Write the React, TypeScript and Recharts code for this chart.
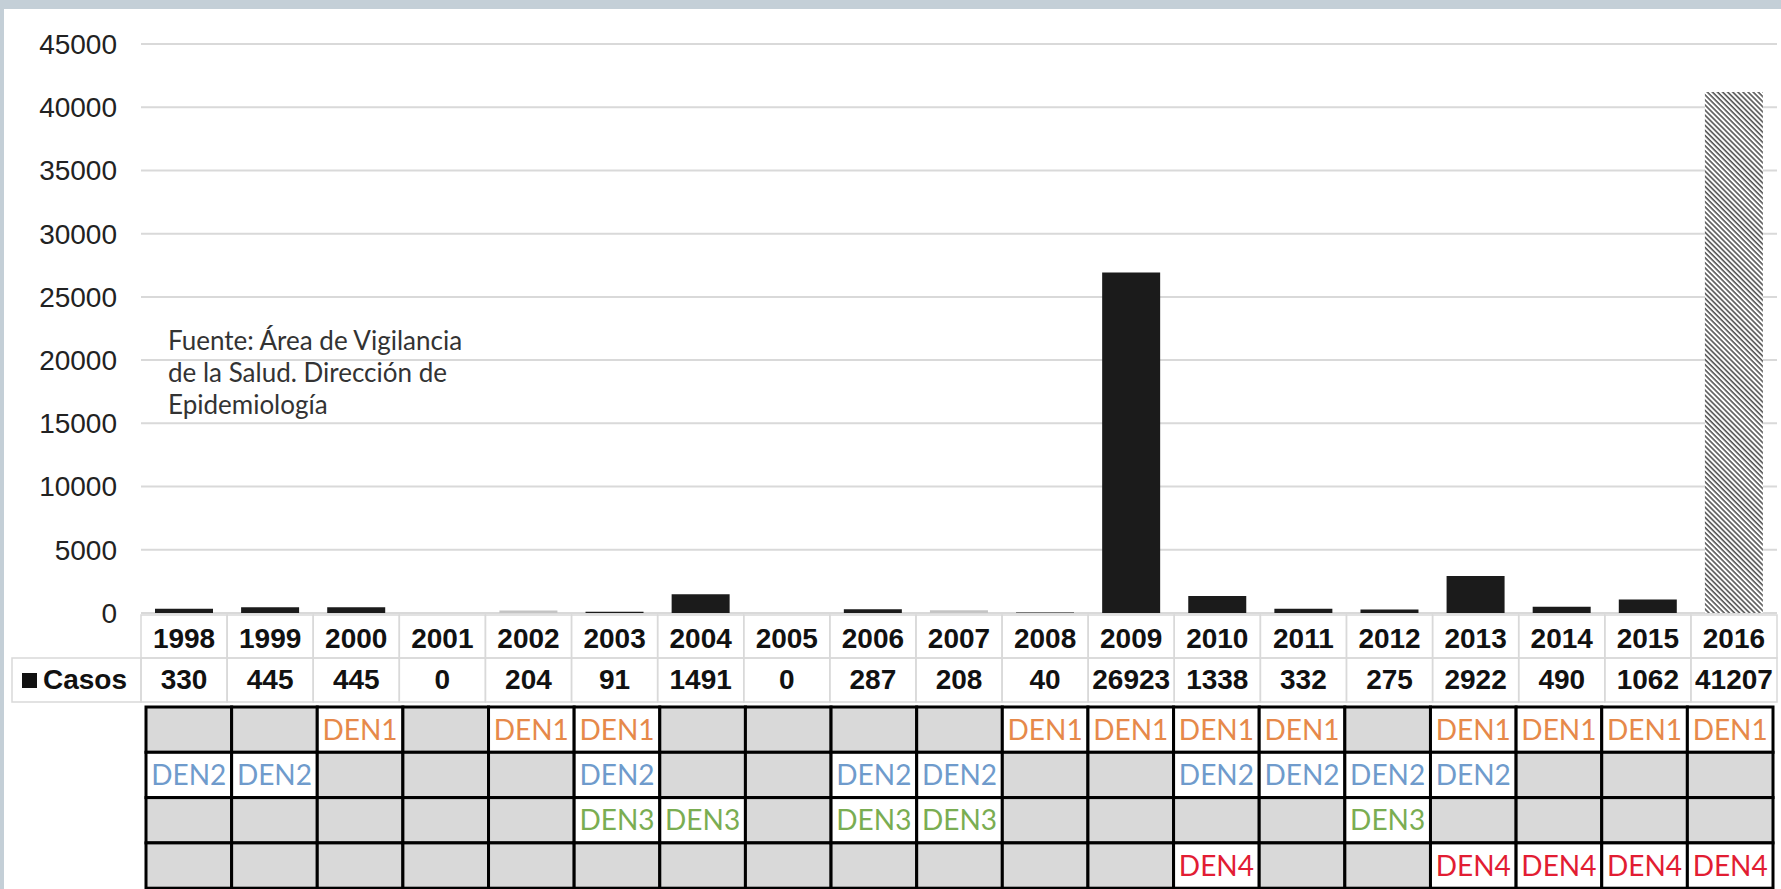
import React from 'react';
import { BarChart, Bar, XAxis, YAxis, CartesianGrid, Cell } from 'recharts';

const years = ['1998', '1999', '2000', '2001', '2002', '2003', '2004', '2005', '2006', '2007', '2008', '2009', '2010', '2011', '2012', '2013', '2014', '2015', '2016'];
const casos = [330, 445, 445, 0, 204, 91, 1491, 0, 287, 208, 40, 26923, 1338, 332, 275, 2922, 490, 1062, 41207];
const yTicks = [0, 5000, 10000, 15000, 20000, 25000, 30000, 35000, 40000, 45000];

const den1Years = ['2000', '2002', '2003', '2008', '2009', '2010', '2011', '2013', '2014', '2015', '2016'];
const den2Years = ['1998', '1999', '2003', '2006', '2007', '2010', '2011', '2012', '2013'];
const den3Years = ['2003', '2004', '2006', '2007', '2012'];
const den4Years = ['2010', '2013', '2014', '2015', '2016'];
const serotypes = ['DEN1', 'DEN2', 'DEN3', 'DEN4'];
const serotypeYears = [den1Years, den2Years, den3Years, den4Years];

const sourceLines = ['Fuente: Área de Vigilancia', 'de la Salud. Dirección de', 'Epidemiología'];

const lightYears = ['2002', '2007'];
const hatchedYears = ['2016'];

const data = years.map((y, i) => ({ year: y, casos: casos[i] }));

const W = 1781;
const H = 889;
const PLOT_LEFT = 141;
const PLOT_RIGHT = 1777;
const PLOT_TOP = 44;
const XAXIS_H = 276;
const CW = (PLOT_RIGHT - PLOT_LEFT) / years.length;
const DEN_LEFT = 146;
const DEN_RIGHT = 1773;
const DEN_SCALE = (DEN_RIGHT - DEN_LEFT) / (PLOT_RIGHT - PLOT_LEFT);

const denColors = ['#e6894a', '#6f9bcc', '#7aad52', '#e21d33'];
const ARIAL = '"Liberation Sans", Arial, sans-serif';
const CAL = 'Lato, "Open Sans", sans-serif';

function XTick(props: any) {
  const { x, y, payload } = props;
  const yr = String(payload.value);
  const i = years.indexOf(yr);
  const L = x - CW / 2;
  const r1 = y + 2;
  const r2 = r1 + 43;
  const denTop = r1 + 92;
  const denH = 45.3;
  const dL = DEN_LEFT + (L - PLOT_LEFT) * DEN_SCALE;
  const dW = CW * DEN_SCALE;
  return (
    <g>
      <rect x={L} y={r1} width={CW} height={43} fill="none" stroke="#d9d9d9" strokeWidth={1.5} />
      <rect x={L} y={r2} width={CW} height={44} fill="none" stroke="#d9d9d9" strokeWidth={1.5} />
      <text x={x} y={r1 + 33} textAnchor="middle" fontFamily={ARIAL} fontWeight="bold" fontSize={28} fill="#111">{yr}</text>
      <text x={x} y={r2 + 31} textAnchor="middle" fontFamily={ARIAL} fontWeight="bold" fontSize={28} fill="#111">{casos[i]}</text>
      {i === 0 && (
        <g>
          <rect x={12} y={r2} width={L - 12} height={44} fill="none" stroke="#d9d9d9" strokeWidth={1.5} />
          <rect x={22} y={r2 + 15} width={15} height={15} fill="#111" />
          <text x={43} y={r2 + 31} fontFamily={ARIAL} fontWeight="bold" fontSize={28} fill="#111">Casos</text>
        </g>
      )}
      {serotypes.map((s, k) => {
        const has = serotypeYears[k].includes(yr);
        const top = denTop + k * denH;
        return (
          <g key={s}>
            <rect x={dL} y={top} width={dW} height={denH} fill={has ? '#ffffff' : '#d9d9d9'} stroke="#000" strokeWidth={3} />
            {has && (
              <text x={dL + dW / 2} y={top + denH / 2 + 10} textAnchor="middle" fontFamily={CAL} fontSize={28} fill={denColors[k]}>{s}</text>
            )}
          </g>
        );
      })}
    </g>
  );
}

function barFill(yr: string) {
  if (hatchedYears.includes(yr)) return 'url(#hatch)';
  if (lightYears.includes(yr)) return '#c4c4c4';
  return '#1b1b1b';
}

export default function App() {
  return (
    <div style={{ position: 'absolute', left: 0, top: 0, width: W, height: H, background: '#c4cfd7', overflow: 'hidden' }}>
      <div style={{ position: 'absolute', left: 4, top: 9, right: 0, bottom: 0, background: '#ffffff' }} />
      <div style={{ position: 'absolute', left: 0, top: 0 }}>
        <BarChart width={W} height={H} data={data} margin={{ top: PLOT_TOP, right: W - PLOT_RIGHT, left: 0, bottom: 0 }} barSize={58}>
          <defs>
            <pattern id="hatch" patternUnits="userSpaceOnUse" width="3.6" height="3.6" patternTransform="rotate(-45)">
              <rect width="3.6" height="3.6" fill="#ffffff" />
              <line x1="1" y1="0" x2="1" y2="3.6" stroke="#555555" strokeWidth="1.6" />
            </pattern>
          </defs>
          <CartesianGrid horizontal vertical={false} stroke="#d9d9d9" strokeWidth={2} />
          <YAxis
            width={PLOT_LEFT}
            domain={[0, 45000]}
            ticks={yTicks}
            interval={0}
            axisLine={false}
            tickLine={false}
            tickSize={0}
            tickMargin={24}
            tick={{ fontFamily: ARIAL, fontSize: 28, fill: '#222' }}
          />
          <XAxis
            dataKey="year"
            height={XAXIS_H}
            interval={0}
            axisLine={false}
            tickLine={false}
            tickSize={0}
            tickMargin={0}
            tick={(p: any) => <XTick {...p} />}
          />
          <Bar dataKey="casos" isAnimationActive={false}>
            {data.map((d) => (
              <Cell key={d.year} fill={barFill(d.year)} />
            ))}
          </Bar>
        </BarChart>
      </div>
      <div style={{ position: 'absolute', left: 168, top: 324, fontFamily: CAL, fontSize: 26, lineHeight: '32px', color: '#333333', whiteSpace: 'nowrap' }}>
        {sourceLines.map((l) => (
          <div key={l}>{l}</div>
        ))}
      </div>
    </div>
  );
}
